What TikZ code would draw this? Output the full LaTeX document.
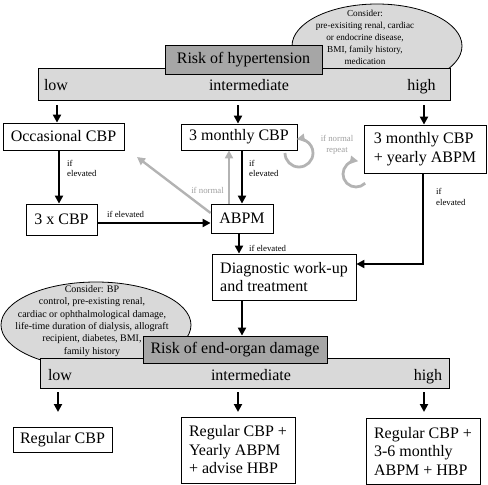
\documentclass[tikz,border=0pt]{standalone}
\usepackage{fontspec}
\setmainfont{Liberation Serif}
\usetikzlibrary{arrows.meta,shapes.geometric,calc}
\definecolor{bandgrey}{HTML}{D9D9D9}
\definecolor{hdrgrey}{HTML}{A6A6A6}
\definecolor{arrgrey}{HTML}{B3B3B3}
\definecolor{txtgrey}{HTML}{A0A0A0}
\begin{document}
\begin{tikzpicture}[x=1pt,y=1pt,
 box/.style={draw=black, line width=0.8pt, fill=white, rectangle, inner sep=0pt, align=left, font=\fontsize{16}{18.5}\selectfont},
 band/.style={draw=black, line width=0.8pt, fill=bandgrey, rectangle, inner sep=0pt},
 hdr/.style={draw=black, line width=0.8pt, fill=hdrgrey, rectangle, inner sep=0pt, font=\fontsize{16}{18}\selectfont},
 cloud/.style={draw=black, line width=0.8pt, fill=bandgrey, ellipse, inner sep=0pt},
 ctxt1/.style={font=\fontsize{9.2}{12}\selectfont, align=center, inner sep=0pt},
 ctxt2/.style={font=\fontsize{10}{12.4}\selectfont, align=center, inner sep=0pt},
 bandtxt/.style={font=\fontsize{16}{18}\selectfont, inner sep=0pt, anchor=base},
 arr/.style={line width=2.4pt, -{Triangle[length=8pt,width=8pt]}},
 garr/.style={draw=arrgrey, line width=2.4pt, -{Triangle[length=8pt,width=8pt]}},
 lab/.style={font=\fontsize{8.8}{10.5}\selectfont, inner sep=0pt, align=left},
 glab/.style={lab, text=txtgrey},
]
\useasboundingbox (0,0) rectangle (488,-485);
% ---- top section
\node[cloud, minimum width=170pt, minimum height=84pt] (ell1) at (377,-46) {};
\node[ctxt1] (ell1t) at (365,-37) {Consider:\\pre-exisiting renal, cardiac\\or endocrine disease,\\BMI, family history,\\medication};
\node[band, minimum width=412pt, minimum height=32pt] (band1) at (244,-84) {};
\node[hdr, minimum width=157pt, minimum height=29pt] (hdr1) at (243.5,-59.5) {Risk of hypertension};
\node[bandtxt] (b1l) at (56,-90.5) {low};
\node[bandtxt] (b1m) at (249,-90.5) {intermediate};
\node[bandtxt] (b1h) at (421.5,-90.5) {high};
% ---- first row
\node[box, minimum width=121pt, minimum height=27pt] (occ) at (63.5,-136.5) {Occasional CBP};
\node[box, minimum width=116pt, minimum height=26pt] (m3) at (239,-137) {3 monthly CBP};
\node[box, minimum width=122pt, minimum height=48pt] (m3y) at (425,-149) {3 monthly CBP\\+ yearly ABPM};
\node[box, minimum width=71pt, minimum height=31pt] (tri) at (61.5,-219.5) {3 x CBP};
\node[box, minimum width=62pt, minimum height=29pt] (abpm) at (242,-218.5) {ABPM};
\node[box, minimum width=144pt, minimum height=46pt] (diag) at (284,-277) {Diagnostic work-up\\and treatment};
% ---- bottom section
\node[cloud, minimum width=190pt, minimum height=86pt] (ell2) at (96,-325) {};
\node[ctxt2] (ell2t) at (92,-321) {Consider: BP\\control, pre-existing renal,\\cardiac or ophthalmological damage,\\life-time duration of dialysis, allograft\\recipient, diabetes, BMI,\\family history};
\node[band, minimum width=409pt, minimum height=30pt] (band2) at (244.5,-373) {};
\node[hdr, minimum width=184pt, minimum height=27pt] (hdr2) at (235,-349.5) {Risk of end-organ damage};
\node[bandtxt] (b2l) at (60,-380.5) {low};
\node[bandtxt] (b2m) at (251,-380.5) {intermediate};
\node[bandtxt] (b2h) at (428,-380.5) {high};
\node[box, minimum width=99pt, minimum height=25pt] (rcbp) at (62.5,-439.5) {Regular CBP};
\node[box, minimum width=114pt, minimum height=66pt] (mid) at (238,-450) {Regular CBP +\\Yearly ABPM\\+ advise HBP};
\node[box, minimum width=114pt, minimum height=66pt] (rgt) at (423,-451) {Regular CBP +\\3-6 monthly\\ABPM + HBP};
% ---- arrows from band 1
\coordinate (t1) at (57,-105);
\coordinate (t2) at (238,-105);
\coordinate (t3) at (424,-105);
\draw[arr] (t1) -- (t1 |- occ.north);
\draw[arr] (t2) -- (t2 |- m3.north);
\draw[arr] (t3) -- (t3 |- m3y.north);
% ---- flow
\coordinate (c1) at (59,0);
\draw[arr] (c1 |- occ.south) -- (c1 |- tri.north);
\node[lab, anchor=west] (l1) at (67,-168.5) {if\\elevated};
\coordinate (c2) at (242,0);
\draw[arr] (c2 |- m3.south) -- (c2 |- abpm.north);
\node[lab, anchor=west] (l2) at (249,-168.5) {if\\elevated};
\coordinate (c3) at (229,0);
\draw[garr] (c3 |- abpm.north) -- (c3 |- m3.south);
\node[glab, anchor=east] (l3) at (224,-190) {if normal};
\coordinate (g1) at (137,-157);
\draw[garr] ([yshift=5.5pt]abpm.west) -- (g1);
\coordinate (c4) at (0,-223);
\draw[arr] (tri.east |- c4) -- (abpm.west |- c4);
\node[lab, anchor=west] (l4) at (107,-214) {if elevated};
\coordinate (c5) at (239,0);
\draw[arr] (c5 |- abpm.south) -- (c5 |- diag.north);
\node[lab, anchor=west] (l5) at (249,-248) {if elevated};
\coordinate (c6) at (423,0);
\draw[arr] (c6 |- m3y.south) |- ([yshift=13pt]diag.east);
\node[lab, anchor=west] (l6) at (436,-197) {if\\elevated};
\draw[arr] (c2 |- diag.south) -- (c2 |- hdr2.north);
% ---- repeat loops
\draw[garr, line width=2.8pt] (299,-153) ++(180:14) arc[start angle=180, end angle=460, radius=14];
\draw[garr, line width=2.8pt] (356,-174) ++(-45:13) arc[start angle=-45, end angle=-280, radius=13];
\node[glab, align=center] (l7) at (337,-145) {if normal\\repeat};
% ---- arrows from band 2
\coordinate (u1) at (58,-392);
\coordinate (u2) at (238,-392);
\coordinate (u3) at (424,-392);
\coordinate (v1) at (58,-412);
\coordinate (v2) at (238,-412);
\coordinate (v3) at (424,-412);
\draw[arr] (u1) -- (v1);
\draw[arr] (u2) -- (v2);
\draw[arr] (u3) -- (v3);
\end{tikzpicture}
\end{document}
